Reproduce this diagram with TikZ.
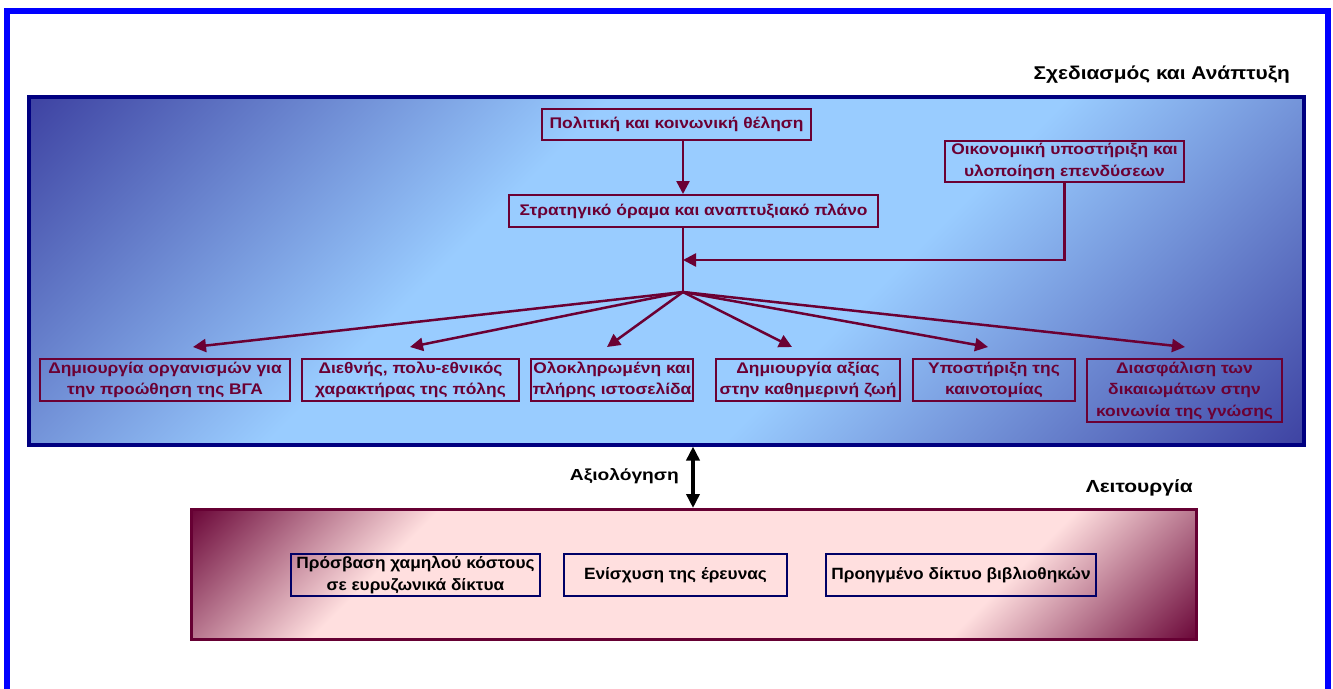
\documentclass[tikz,border=0pt]{standalone}
\usepackage{fontspec}
\setmainfont{Liberation Sans}
\newfontfamily\wfont{Liberation Sans}[FakeStretch=1.13]
\newfontfamily\lowfont{Liberation Sans}[FakeStretch=1.06]
\newfontfamily\labfont{Liberation Sans}[FakeStretch=1.2]
\usetikzlibrary{arrows.meta}
\definecolor{frameblue}{HTML}{0000FF}
\definecolor{navy}{HTML}{000080}
\definecolor{bdark}{HTML}{353599}
\definecolor{blight}{HTML}{99CCFF}
\definecolor{wine}{HTML}{6B0033}
\definecolor{pdark}{HTML}{660033}
\definecolor{plight}{HTML}{FFDFDF}
\definecolor{lnavy}{HTML}{000066}
\pgfdeclareverticalshading{bluepanel}{100bp}{color(0bp)=(bdark); color(12bp)=(bdark); color(40bp)=(blight); color(60bp)=(blight); color(88bp)=(bdark); color(100bp)=(bdark)}
\pgfdeclareverticalshading{pinkpanel}{100bp}{color(0bp)=(pdark); color(14bp)=(pdark); color(30bp)=(plight); color(70bp)=(plight); color(86bp)=(pdark); color(100bp)=(pdark)}
\tikzset{
  redbox/.style={draw=wine, line width=2pt, text=wine, align=center, inner sep=0pt,
    font=\wfont\bfseries\fontsize{15.4}{21.5}\selectfont},
  navybox/.style={draw=lnavy, line width=2pt, text=black, align=center, inner sep=0pt,
    font=\lowfont\bfseries\fontsize{16.3}{22}\selectfont},
  link/.style={draw=wine, line width=2.5pt, -{Triangle[length=13pt,width=13pt]}},
  plainlink/.style={draw=wine, line width=2.5pt},
  lbl/.style={inner sep=0pt, text=black},
}
\begin{document}
\begin{tikzpicture}[x=1pt,y=-1pt]
\useasboundingbox (0,0) rectangle (1333,688);
% outer frame
\draw[frameblue, line width=6pt] (7,720) -- (7,11) -- (1328,11) -- (1328,720);
% blue panel
\shade[shading=bluepanel, shading angle=45] (29,97) rectangle (1304,444.5);
\draw[navy, line width=4pt] (29,97) rectangle (1304,444.5);
% pink panel
\shade[shading=pinkpanel, shading angle=45] (191.5,509.5) rectangle (1196.5,639);
\draw[pdark, line width=3pt] (191.5,509.5) rectangle (1196.5,639);
% labels
\node[lbl, anchor=east, font=\wfont\bfseries\fontsize{18.5}{20}\selectfont] (hdr) at (1290,75) {Σχεδιασμός και Ανάπτυξη};
\node[lbl, anchor=east, font=\labfont\bfseries\fontsize{16}{20}\selectfont] (eval) at (679,476) {Αξιολόγηση};
\node[lbl, anchor=east, font=\labfont\bfseries\fontsize{17.5}{20}\selectfont] (oper) at (1193,488) {Λειτουργία};
% top boxes
\node[redbox, minimum width=269pt, minimum height=31pt] (polit) at (676.5,124.5) {Πολιτική και κοινωνική θέληση};
\node[redbox, minimum width=369pt, minimum height=32pt] (strat) at (693.5,211) {Στρατηγικό όραμα και αναπτυξιακό πλάνο};
\node[redbox, minimum width=239pt, minimum height=41pt] (oik) at (1064.5,161.5) {Οικονομική υποστήριξη και\\υλοποίηση επενδύσεων};
% bottom row
\node[redbox, minimum width=250pt, minimum height=42pt] (b1) at (165,380) {Δημιουργία οργανισμών για\\την προώθηση της ΒΓΑ};
\node[redbox, minimum width=217pt, minimum height=42pt] (b2) at (410.5,380) {Διεθνής, πολυ-εθνικός\\χαρακτήρας της πόλης};
\node[redbox, minimum width=162pt, minimum height=42pt] (b3) at (612,380) {Ολοκληρωμένη και\\πλήρης ιστοσελίδα};
\node[redbox, minimum width=184pt, minimum height=42pt] (b4) at (808,380) {Δημιουργία αξίας\\στην καθημερινή ζωή};
\node[redbox, minimum width=162pt, minimum height=42pt] (b5) at (994,380) {Υποστήριξη της\\καινοτομίας};
\node[redbox, minimum width=195pt, minimum height=63pt] (b6) at (1184.5,390.5) {Διασφάλιση των\\δικαιωμάτων στην\\κοινωνία της γνώσης};
% hub and arrow tips
\coordinate (hub) at (683,292);
\coordinate (join) at (683,260);
\coordinate (t1) at (193,347);
\coordinate (t2) at (410,347);
\coordinate (t3) at (607,347);
\coordinate (t4) at (792,347);
\coordinate (t5) at (988,347);
\coordinate (t6) at (1185,347);
% connectors
\draw[link] (polit.south -| hub) -- (strat.north -| hub);
\draw[plainlink] (strat.south -| hub) -- (hub);
\draw[link] (oik.south) |- (join);
\foreach \t in {t1,t2,t3,t4,t5,t6} \draw[link] (hub) -- (\t);
% lower boxes
\node[navybox, minimum width=249pt, minimum height=42pt] (l1) at (415.5,575) {Πρόσβαση χαμηλού κόστους\\σε ευρυζωνικά δίκτυα};
\node[navybox, minimum width=223pt, minimum height=42pt] (l2) at (675.5,575) {Ενίσχυση της έρευνας};
\node[navybox, minimum width=270pt, minimum height=42pt] (l3) at (961,575) {Προηγμένο δίκτυο βιβλιοθηκών};
% evaluation arrow
\coordinate (ea) at (693,446.5);
\coordinate (eb) at (693,508);
\draw[black, line width=4pt, {Triangle[length=14pt,width=13pt]}-{Triangle[length=14pt,width=13pt]}] (ea) -- (eb);
\end{tikzpicture}
\end{document}
